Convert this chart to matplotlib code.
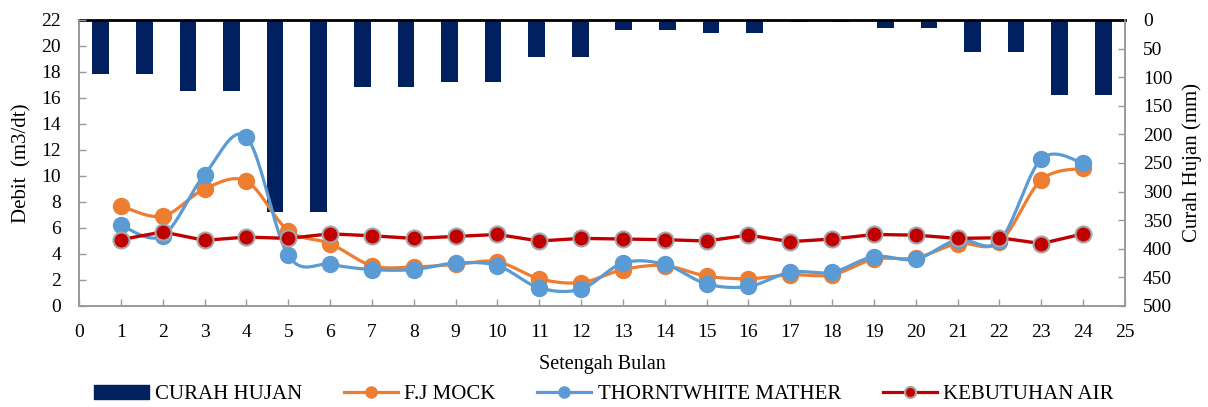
import matplotlib
matplotlib.use("Agg")
import matplotlib.pyplot as plt
from matplotlib.patches import Patch
from matplotlib.lines import Line2D
import numpy as np

plt.rcParams['font.family'] = ['Liberation Serif', 'DejaVu Serif']

periode = np.arange(1, 25)

# curah hujan per setengah bulan (mm)
curah_hujan = [95, 95, 124, 124, 335, 335, 118, 118, 108, 108, 64, 64,
               18, 18, 23, 23, 3, 3, 14, 14, 56, 56, 132, 132]

# debit (m3/dt)
fj_mock = [7.7, 6.9, 9.0, 9.6, 5.8, 4.8, 3.1, 3.0, 3.2, 3.4, 2.1, 1.8,
           2.8, 3.1, 2.3, 2.1, 2.4, 2.4, 3.6, 3.7, 4.8, 4.9, 9.7, 10.6]
thornthwaite = [6.2, 5.4, 10.1, 13.0, 3.9, 3.2, 2.8, 2.8, 3.3, 3.1, 1.4, 1.3,
                3.3, 3.2, 1.7, 1.5, 2.6, 2.6, 3.8, 3.6, 5.1, 5.0, 11.3, 11.0]
kebutuhan_air = [5.1, 5.7, 5.05, 5.3, 5.2, 5.55, 5.4, 5.2, 5.35, 5.5, 5.0, 5.2,
                 5.15, 5.1, 5.0, 5.45, 4.95, 5.15, 5.5, 5.45, 5.2, 5.25, 4.8, 5.55]

NAVY = '#002060'
ORANGE = '#ED7D31'
BLUE = '#5B9BD5'
RED = '#C00000'
GREY = '#A5A5A5'
AXIS = '#999999'


def smooth(x, y, n=24):
    # bezier smoothing through every point (like office "smoothed line")
    x = np.asarray(x, float)
    y = np.asarray(y, float)
    p = np.column_stack([x, y])
    out = []
    t = np.linspace(0, 1, n)[:, None]
    for i in range(len(p) - 1):
        p0 = p[i - 1] if i > 0 else p[i]
        p1, p2 = p[i], p[i + 1]
        p3 = p[i + 2] if i + 2 < len(p) else p[i + 1]
        c1 = p1 + (p2 - p0) / 6
        c2 = p2 - (p3 - p1) / 6
        seg = ((1 - t) ** 3) * p1 + 3 * ((1 - t) ** 2) * t * c1 + 3 * (1 - t) * t ** 2 * c2 + t ** 3 * p2
        out.append(seg if i == 0 else seg[1:])
    out = np.vstack(out)
    return out[:, 0], out[:, 1]


fig = plt.figure(figsize=(12.08, 4.07), dpi=100)
ax = fig.add_axes([0.0654, 0.2482, 0.8659, 0.7027])
ax2 = ax.twinx()
ax.set_zorder(2)
ax.patch.set_visible(False)

# bars on their own category axis spanning 0..25
bar_pos = (np.arange(len(curah_hujan)) + 0.5) * 25 / len(curah_hujan)
ax2.bar(bar_pos, curah_hujan, width=0.4, color=NAVY, zorder=1)
ax2.set_ylim(500, 0)
ax2.set_yticks(np.arange(0, 501, 50))
ax2.set_ylabel('Curah Hujan (mm)', fontsize=15, labelpad=7)

# debit lines
sx, sy = smooth(periode, fj_mock)
ax.plot(sx, sy, color=ORANGE, lw=2.3, zorder=3)
ax.plot(periode, fj_mock, 'o', color=ORANGE, ms=11.5, mec=ORANGE, zorder=3)
sx, sy = smooth(periode, thornthwaite)
ax.plot(sx, sy, color=BLUE, lw=2.3, zorder=4)
ax.plot(periode, thornthwaite, 'o', color=BLUE, ms=11.5, mec=BLUE, zorder=4)
ax.plot(periode, kebutuhan_air, '-o', color=RED, lw=2.4, ms=11.5, mec=GREY, mew=1.5, zorder=5)

ax.set_xlim(0, 25)
ax.set_ylim(0, 22)
ax.set_xticks(np.arange(0, 26, 1))
ax.set_yticks(np.arange(0, 23, 2))
ax.set_xlabel('Setengah Bulan', fontsize=14.5, labelpad=10)
ax.set_ylabel('Debit  (m3/dt)', fontsize=15, labelpad=7)

for a in (ax, ax2):
    a.tick_params(direction='in', length=5, width=1, color=AXIS, labelsize=14, pad=13)
    for s in a.spines.values():
        s.set_color(AXIS)
        s.set_linewidth(1.2)
ax2.spines['top'].set_color('black')
ax2.spines['top'].set_linewidth(2)
ax.spines['top'].set_visible(False)
ax.tick_params(axis='x', pad=13)

handles = [
    Patch(color=NAVY),
    Line2D([], [], color=ORANGE, lw=2.3, marker='o', ms=8, mec=ORANGE),
    Line2D([], [], color=BLUE, lw=2.3, marker='o', ms=8, mec=BLUE),
    Line2D([], [], color=RED, lw=2.3, marker='o', ms=8, mec=GREY, mew=1.5),
]
labels = ['CURAH HUJAN', 'F.J MOCK', 'THORNTWHITE MATHER', 'KEBUTUHAN AIR']
fig.legend(handles, labels, loc='center', bbox_to_anchor=(0.5, 0.03), ncol=4,
           frameon=False, fontsize=15, handlelength=2.6, handletextpad=0.3,
           columnspacing=2.0, handleheight=0.6)

fig.savefig('out.png', dpi=100)
